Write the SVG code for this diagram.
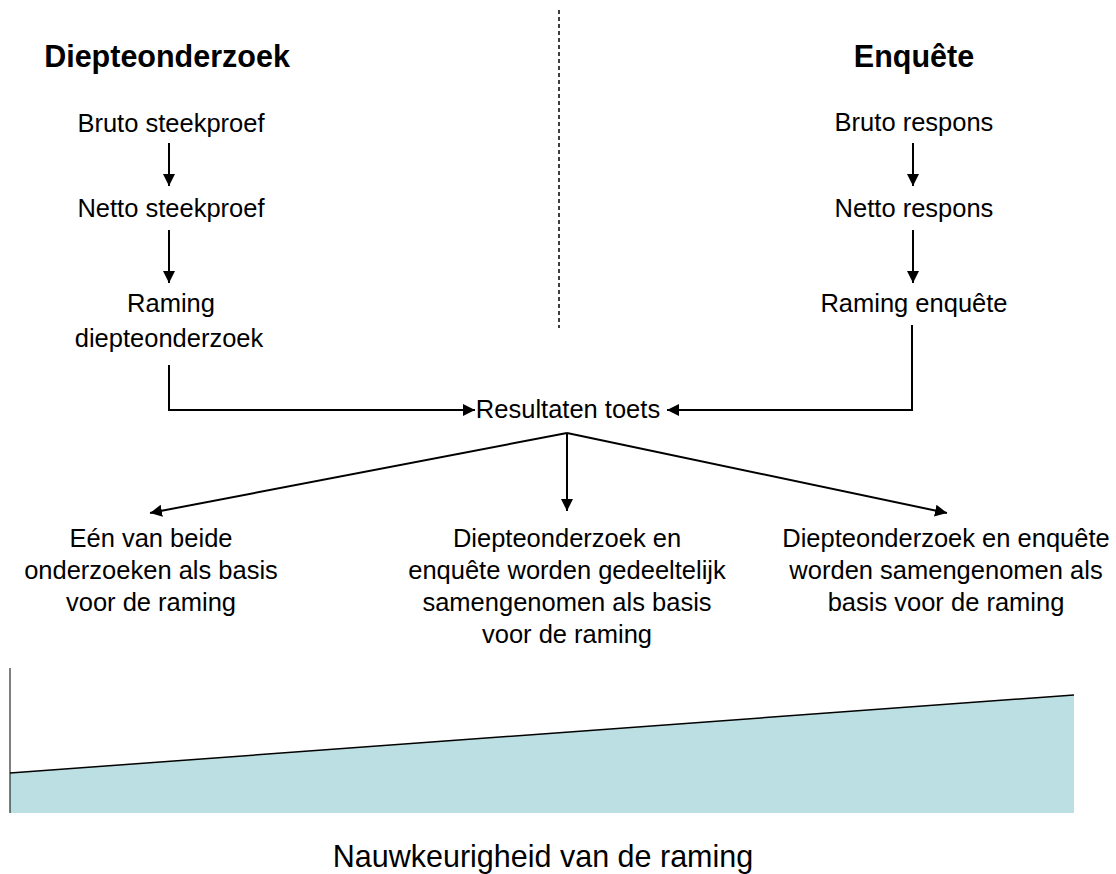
<svg xmlns="http://www.w3.org/2000/svg" width="1116" height="874" viewBox="0 0 1116 874">
<style>
.t{font-family:"Liberation Sans",Arial,sans-serif;font-size:25.5px;fill:#000;text-anchor:middle}
.h{font-family:"Liberation Sans",Arial,sans-serif;font-size:30.5px;font-weight:bold;fill:#000;text-anchor:middle}
.c{fill:none;stroke:#000;stroke-width:2}
</style>
<defs>
<marker id="ah" markerUnits="userSpaceOnUse" markerWidth="14" markerHeight="14" viewBox="0 0 14 14" refX="12" refY="7" orient="auto">
<path d="M0,1 L12,7 L0,13 Z" fill="#000"/>
</marker>
</defs>
<rect width="1116" height="874" fill="#fff"/>
<line x1="559" y1="10" x2="559" y2="328" stroke="#000" stroke-width="1.5" stroke-dasharray="4,3"/>
<g id="title-diepte"><text class="h" x="167" y="67">Diepteonderzoek</text></g>
<g id="title-enquete"><text class="h" x="914" y="67">Enquête</text></g>
<g id="bruto-steekproef"><text class="t" x="171" y="132">Bruto steekproef</text></g>
<g id="netto-steekproef"><text class="t" x="171" y="217">Netto steekproef</text></g>
<g id="raming-diepte"><text class="t" x="171" y="312">Raming</text><text class="t" x="169" y="347">diepteonderzoek</text></g>
<g id="bruto-respons"><text class="t" x="914" y="131">Bruto respons</text></g>
<g id="netto-respons"><text class="t" x="914" y="217">Netto respons</text></g>
<g id="raming-enquete"><text class="t" x="914" y="312">Raming enquête</text></g>
<g id="resultaten"><text class="t" x="568" y="418">Resultaten toets</text></g>
<g id="optie1"><text class="t" x="151" y="547">Eén van beide</text><text class="t" x="151" y="579">onderzoeken als basis</text><text class="t" x="151" y="611">voor de raming</text></g>
<g id="optie2"><text class="t" x="567" y="547">Diepteonderzoek en</text><text class="t" x="567" y="579">enquête worden gedeeltelijk</text><text class="t" x="567" y="611">samengenomen als basis</text><text class="t" x="567" y="643">voor de raming</text></g>
<g id="optie3"><text class="t" x="946" y="547">Diepteonderzoek en enquête</text><text class="t" x="946" y="579">worden samengenomen als</text><text class="t" x="946" y="611">basis voor de raming</text></g>
<g id="connectors">
<line class="c" x1="169" y1="143" x2="169" y2="186" marker-end="url(#ah)"/>
<line class="c" x1="169" y1="230" x2="169" y2="283" marker-end="url(#ah)"/>
<line class="c" x1="913" y1="143" x2="913" y2="186" marker-end="url(#ah)"/>
<line class="c" x1="913" y1="230" x2="913" y2="283" marker-end="url(#ah)"/>
<path class="c" d="M169,365 V410 H475" marker-end="url(#ah)"/>
<path class="c" d="M912,325 V410 H667" marker-end="url(#ah)"/>
<line class="c" x1="567" y1="433" x2="150" y2="513" marker-end="url(#ah)"/>
<line class="c" x1="567" y1="433" x2="567" y2="511" marker-end="url(#ah)"/>
<line class="c" x1="567" y1="433" x2="947" y2="513" marker-end="url(#ah)"/>
</g>
<g id="nauwkeurigheid">
<polygon points="10,773 1074,695 1074,813 10,813" fill="#bbdfe2"/>
<line x1="10" y1="773" x2="1074" y2="695" stroke="#000" stroke-width="1.5"/>
<line x1="10" y1="668" x2="10" y2="813" stroke="#000" stroke-width="1"/>
<text class="t" x="543" y="867" style="font-size:30.5px">Nauwkeurigheid van de raming</text>
</g>
</svg>
